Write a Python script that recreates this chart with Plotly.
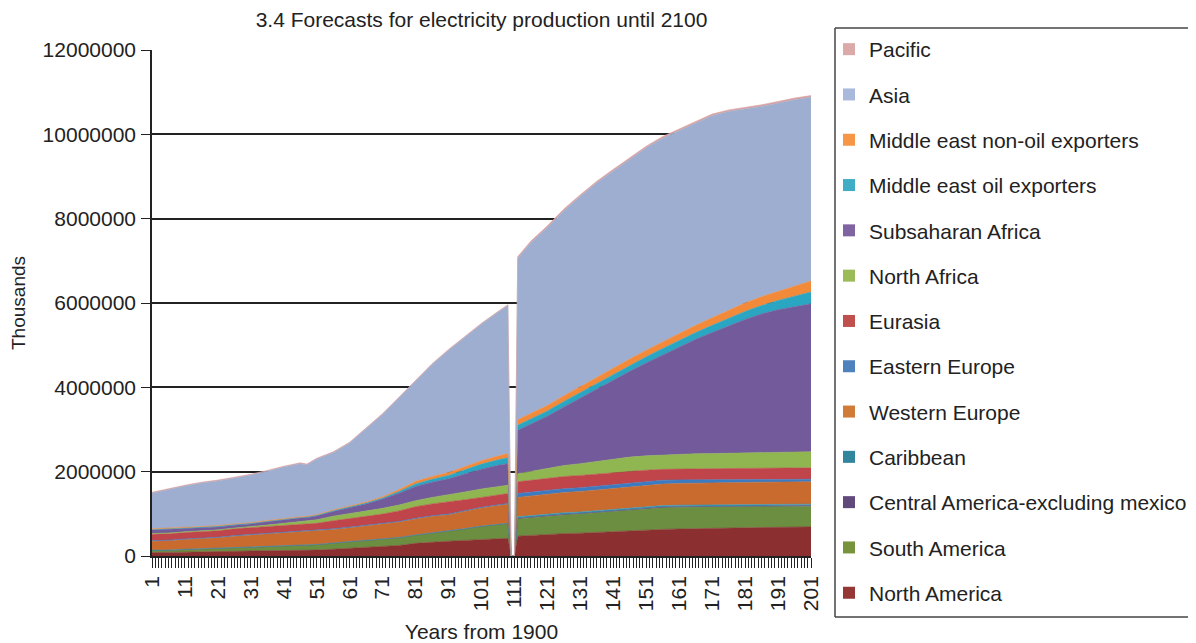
import plotly.graph_objects as go

# Years from 1900 (category positions)
years = [1, 6, 11, 16, 21, 26, 31, 36, 41, 46, 48, 51, 56, 61, 66, 71, 76, 81, 86, 91, 96, 101, 106, 109, 110, 111,
         112, 116, 121, 126, 131, 136, 141, 146, 151, 156, 161, 166, 171, 176, 181, 186, 191, 196, 201]

north_america = [80000, 80000, 90000, 100000, 100000, 110000, 120000, 125000, 130000, 130000, 135000, 140000, 160000,
                 180000, 200000, 220000, 250000, 300000, 330000, 350000, 370000, 390000, 410000, 420000, 0, 0,
                 470000, 490000, 510000, 530000, 540000, 560000, 580000, 600000, 615000, 630000, 640000, 650000,
                 660000, 665000, 670000, 675000, 680000, 685000, 690000]
south_america = [50000, 50000, 60000, 60000, 70000, 80000, 85000, 95000, 105000, 120000, 120000, 125000, 140000,
                 150000, 160000, 170000, 180000, 190000, 210000, 230000, 270000, 310000, 330000, 345000, 0, 0,
                 410000, 420000, 435000, 445000, 455000, 465000, 480000, 495000, 505000, 515000, 515000, 510000,
                 505000, 500000, 500000, 495000, 490000, 490000, 490000]
central_america = [5000, 5000, 5000, 5000, 5000, 5000, 5000, 5000, 5000, 5000, 5000, 5000, 5000,
                   5000, 5000, 5000, 5000, 5000, 5000, 5000, 5000, 5000, 5000, 5000, 0, 0,
                   15000, 15000, 15000, 15000, 15000, 15000, 15000, 15000, 15000, 15000, 15000, 15000,
                   15000, 15000, 15000, 15000, 15000, 15000, 15000]
caribbean = [5000, 5000, 5000, 5000, 5000, 5000, 5000, 5000, 5000, 5000, 5000, 5000, 5000,
             5000, 5000, 5000, 5000, 5000, 5000, 5000, 5000, 5000, 5000, 5000, 0, 0,
             35000, 35000, 35000, 35000, 35000, 35000, 35000, 35000, 35000, 35000, 35000, 35000,
             35000, 35000, 35000, 35000, 35000, 35000, 35000]
western_europe = [210000, 220000, 230000, 240000, 250000, 270000, 280000, 290000, 300000, 310000, 310000, 315000,
                  320000, 330000, 340000, 350000, 365000, 380000, 390000, 390000, 410000, 430000, 450000, 455000,
                  0, 0, 460000, 465000, 475000, 480000, 485000, 490000, 495000, 500000, 505000, 510000, 515000,
                  520000, 520000, 525000, 525000, 530000, 530000, 530000, 530000]
eastern_europe = [15000, 15000, 15000, 15000, 15000, 15000, 15000, 15000, 15000, 15000, 15000, 15000, 15000,
                  15000, 15000, 15000, 15000, 15000, 15000, 15000, 15000, 15000, 15000, 15000, 0, 0,
                  90000, 90000, 90000, 90000, 90000, 90000, 90000, 90000, 90000, 90000, 85000, 80000,
                  75000, 70000, 70000, 65000, 65000, 60000, 60000]
eurasia = [150000, 150000, 150000, 150000, 155000, 160000, 160000, 165000, 165000, 160000, 160000, 170000, 190000,
           200000, 210000, 230000, 250000, 275000, 280000, 285000, 260000, 235000, 235000, 235000, 0, 0,
           280000, 285000, 290000, 290000, 290000, 290000, 285000, 280000, 270000, 260000, 260000, 260000,
           260000, 265000, 265000, 270000, 270000, 270000, 270000]
north_africa = [20000, 20000, 20000, 20000, 20000, 20000, 25000, 35000, 50000, 70000, 75000, 85000, 110000,
                120000, 130000, 135000, 140000, 140000, 155000, 170000, 185000, 200000, 200000, 200000, 0, 0,
                190000, 210000, 235000, 260000, 280000, 300000, 320000, 330000, 340000, 340000, 350000, 355000,
                360000, 365000, 370000, 370000, 375000, 380000, 380000]
subsaharan_africa = [80000, 80000, 75000, 75000, 70000, 65000, 65000, 75000, 85000, 85000, 85000, 90000, 110000,
                     135000, 170000, 220000, 280000, 340000, 360000, 380000, 420000, 470000, 500000, 510000, 0, 0,
                     1030000, 1120000, 1230000, 1390000, 1560000, 1720000, 1875000, 2035000, 2205000, 2375000,
                     2545000, 2715000, 2870000, 3020000, 3160000, 3285000, 3380000, 3445000, 3510000]
me_oil = [15000, 15000, 15000, 15000, 15000, 15000, 15000, 15000, 15000, 15000, 15000, 15000, 20000,
          20000, 20000, 25000, 40000, 60000, 70000, 80000, 100000, 120000, 130000, 140000, 0, 0,
          120000, 120000, 125000, 130000, 130000, 135000, 140000, 140000, 145000, 150000, 155000, 160000,
          170000, 180000, 190000, 200000, 220000, 250000, 280000]
me_non_oil = [15000, 15000, 15000, 15000, 15000, 15000, 15000, 15000, 15000, 15000, 15000, 15000, 15000,
              20000, 25000, 30000, 45000, 60000, 65000, 70000, 80000, 80000, 90000, 100000, 0, 0,
              130000, 130000, 130000, 135000, 140000, 140000, 145000, 150000, 155000, 160000, 165000, 170000,
              180000, 190000, 200000, 210000, 220000, 240000, 260000]
asia = [845000, 925000, 980000, 1030000, 1060000, 1090000, 1130000, 1170000, 1220000, 1260000, 1220000, 1320000,
        1360000, 1500000, 1730000, 1955000, 2175000, 2370000, 2655000, 2900000, 3080000, 3240000, 3410000, 3510000,
        0, 0, 3830000, 4050000, 4220000, 4390000, 4510000, 4610000, 4670000, 4730000, 4800000, 4830000, 4810000,
        4800000, 4790000, 4710000, 4600000, 4510000, 4460000, 4420000, 4360000]
pacific = [20000, 20000, 20000, 20000, 20000, 20000, 20000, 20000, 20000, 20000, 20000, 20000, 20000,
           20000, 20000, 20000, 20000, 20000, 20000, 20000, 20000, 20000, 20000, 20000, 0, 0,
           40000, 40000, 40000, 40000, 40000, 40000, 40000, 40000, 40000, 40000, 40000, 40000,
           40000, 40000, 40000, 40000, 40000, 40000, 40000]

# stacking order bottom -> top
series_names = ["North America", "South America", "Central America-excluding mexico", "Caribbean",
                "Western Europe", "Eastern Europe", "Eurasia", "North Africa", "Subsaharan Africa",
                "Middle east oil exporters", "Middle east non-oil exporters", "Asia", "Pacific"]
series_values = [north_america, south_america, central_america, caribbean, western_europe, eastern_europe,
                 eurasia, north_africa, subsaharan_africa, me_oil, me_non_oil, asia, pacific]
area_colors = ["#8c2f31", "#6b8e40", "#604a7b", "#3196b4", "#c96b2f", "#3a7bc2", "#bf454a", "#8fb651",
               "#735a9b", "#2aa5c2", "#f28a3a", "#9eaed0", "#d9a2a2"]
legend_colors = ["#953735", "#77933c", "#604a7b", "#31859c", "#d07b38", "#4f81bd", "#c0504d", "#9bbb59",
                 "#8064a2", "#3fadc6", "#f79646", "#a9b9dc", "#dba9a8"]

FONT = "Liberation Sans, Arial, Helvetica, sans-serif"
PAGE_OFFSET = 8                      # default body margin of the html page
W, H = 1196 - PAGE_OFFSET, 643 - PAGE_OFFSET

fig = go.Figure()
for name, vals, col in zip(series_names, series_values, area_colors):
    fig.add_trace(go.Scatter(x=years, y=vals, name=name, stackgroup="one", mode="lines",
                             line=dict(width=0.6, color=col), fillcolor=col, showlegend=False,
                             hoverinfo="skip"))

# legend entries (square markers), top to bottom
for i, (name, col) in enumerate(reversed(list(zip(series_names, legend_colors)))):
    fig.add_trace(go.Scatter(x=[None], y=[None], mode="markers", name=name, legendgroup=f"g{i}",
                             marker=dict(symbol="square", size=10, color=col), showlegend=True))

# plot area in screen pixels
plot_l, plot_r, plot_t, plot_b = 152, 811, 50, 556
def px_x(p):
    return (p - plot_l) / (plot_r - plot_l)
def px_y(p):
    return (plot_b - p) / (plot_b - plot_t)

# legend frame (open on the right: it runs off the picture)
lx0, lx1, ly0, ly1 = px_x(835), px_x(1240), px_y(617), px_y(28)
frame_line = dict(color="#444444", width=1.5)
fig.add_shape(type="line", xref="paper", yref="paper", x0=lx0, x1=lx1, y0=ly1, y1=ly1, line=frame_line)
fig.add_shape(type="line", xref="paper", yref="paper", x0=lx0, x1=lx1, y0=ly0, y1=ly0, line=frame_line)
fig.add_shape(type="line", xref="paper", yref="paper", x0=lx0, x1=lx0, y0=ly0, y1=ly1, line=frame_line)

fig.update_layout(
    width=W, height=H,
    margin=dict(l=plot_l - PAGE_OFFSET, r=W - (plot_r - PAGE_OFFSET), t=plot_t - PAGE_OFFSET,
                b=H - (plot_b - PAGE_OFFSET), autoexpand=False),
    paper_bgcolor="white", plot_bgcolor="white",
    font=dict(family=FONT, size=20, color="#222222"),
    title=dict(text="3.4 Forecasts for electricity production until 2100", x=0.5, xref="paper",
               yref="container", y=1 - (20 - PAGE_OFFSET) / H, yanchor="middle", xanchor="center",
               font=dict(size=21, color="#222222")),
    showlegend=True,
    legend=dict(x=px_x(829), y=px_y(29), xanchor="left", yanchor="top", bgcolor="rgba(0,0,0,0)",
                borderwidth=0, font=dict(size=21, color="#222222"), tracegroupgap=15,
                itemsizing="constant", traceorder="grouped", maxheight=1),
    xaxis=dict(range=[1, 201], tickmode="linear", tick0=1, dtick=10, tickangle=-90,
               ticks="outside", ticklen=10, tickcolor="#222222", showline=True, linecolor="#222222",
               linewidth=1.5, showgrid=False, zeroline=False, tickfont=dict(size=21),
               minor=dict(tick0=1, dtick=1, ticks="outside", ticklen=10, tickcolor="#222222", showgrid=False),
               title=dict(text="Years from 1900", font=dict(size=21), standoff=16)),
    yaxis=dict(range=[0, 12000000], tickmode="linear", tick0=0, dtick=2000000, tickformat="d",
               ticks="outside", ticklen=9, tickcolor="#222222", showline=True, linecolor="#222222",
               linewidth=1.5, showgrid=True, gridcolor="#222222", gridwidth=1.5, zeroline=False,
               tickfont=dict(size=21), ticklabelstandoff=1,
               title=dict(text="Thousands", font=dict(size=19), standoff=13)),
)

fig.write_html("out.html")
